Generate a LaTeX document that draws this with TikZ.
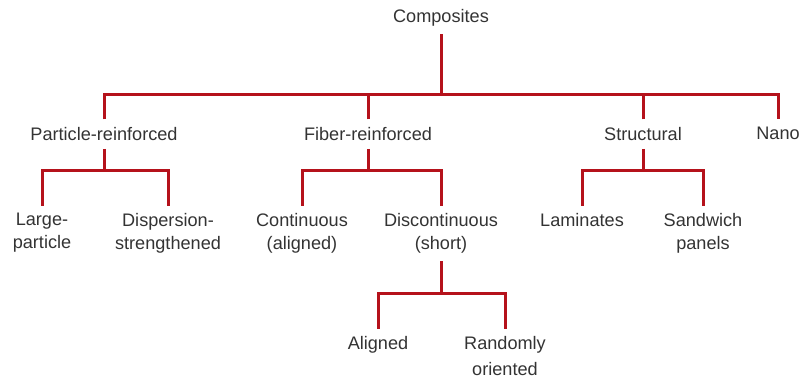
\documentclass[tikz,border=0pt]{standalone}
\usepackage{fontspec}
\setmainfont{Liberation Sans}
\definecolor{linkred}{HTML}{B5121B}
\definecolor{txt}{HTML}{333333}
\begin{document}
\begin{tikzpicture}[x=0.75pt,y=-0.75pt,
  lbl/.style={anchor=north,inner sep=0pt,outer sep=6pt,align=center,text=txt,
    font=\fontsize{13.6pt}{17pt}\selectfont},
  link/.style={draw=linkred,line width=2.25pt,line join=miter}]
\useasboundingbox (0,0) rectangle (809,381);
% nodes
\node[lbl] (comp) at (441,1.5) {Composites};
\node[lbl] (part) at (104,119.5) {Particle-reinforced};
\node[lbl] (fiber) at (368,119.5) {Fiber-reinforced};
\node[lbl] (struct) at (643,119.5) {Structural};
\node[lbl] (nano) at (778,119.5) {Nano};
\node[lbl] (large) at (42,205.5) {Large-\\particle};
\node[lbl] (disp) at (168,205.5) {Dispersion-\\strengthened};
\node[lbl] (cont) at (302,205.5) {Continuous\\(aligned)};
\node[lbl] (discont) at (441,205.5) {Discontinuous\\(short)};
\node[lbl] (lam) at (582,205.5) {Laminates};
\node[lbl] (sand) at (703,205.5) {Sandwich\\panels};
\node[lbl] (alig) at (378,328.5) {Aligned};
\node[lbl] (rand) at (505,328.5) {Randomly\\[2.5pt]oriented};
% bar junctions
\coordinate (b0) at (441,95);
\coordinate (b1) at (104,170);
\coordinate (b2) at (368,170);
\coordinate (b3) at (643,170);
\coordinate (b4) at (441,293);
% connectors
\draw[link] (comp.south) -- (b0);
\draw[link] (part.north) |- (b0) -| (nano.north);
\draw[link] (fiber.north) -- (fiber.north |- b0);
\draw[link] (struct.north) -- (struct.north |- b0);
\draw[link] (part.south) -- (b1);
\draw[link] (large.north) |- (b1) -| (disp.north);
\draw[link] (fiber.south) -- (b2);
\draw[link] (cont.north) |- (b2) -| (discont.north);
\draw[link] (struct.south) -- (b3);
\draw[link] (lam.north) |- (b3) -| (sand.north);
\draw[link] (discont.south) -- (b4);
\draw[link] (alig.north) |- (b4) -| (rand.north);
\end{tikzpicture}
\end{document}
